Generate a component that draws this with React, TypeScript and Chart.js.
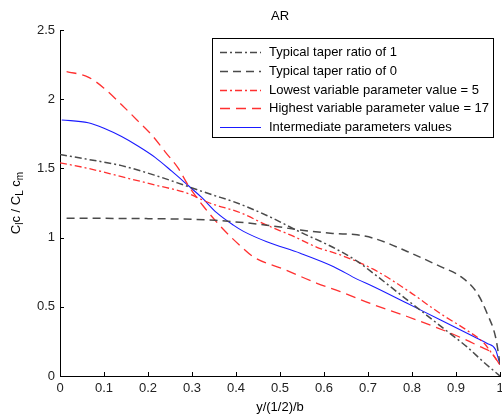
import React, { useEffect, useRef } from "react";
import { Chart, registerables } from "chart.js";

Chart.register(...registerables);

const FONT = '"Liberation Sans", Arial, Helvetica, sans-serif';

const titleText = "AR";
const xAxisLabel = "y/(1/2)/b";
const xTicks = [0, 0.1, 0.2, 0.3, 0.4, 0.5, 0.6, 0.7, 0.8, 0.9, 1];
const yTicks = [0, 0.5, 1, 1.5, 2, 2.5];

const seriesNames = [
  "Typical taper ratio of 1",
  "Typical taper ratio of 0",
  "Lowest variable parameter value = 5",
  "Highest variable parameter value = 17",
  "Intermediate parameters values",
];

const taper1X = [0, 0.064, 0.14, 0.216, 0.29, 0.345, 0.394, 0.47, 0.546, 0.62, 0.675, 0.713, 0.789, 0.865, 0.925, 0.963, 1];
const taper1Y = [1.6, 1.565, 1.52, 1.45, 1.37, 1.31, 1.26, 1.16, 1.04, 0.93, 0.83, 0.74, 0.55, 0.36, 0.21, 0.1, 0];

const taper0X = [0.015, 0.1, 0.2, 0.3, 0.353, 0.394, 0.47, 0.546, 0.62, 0.675, 0.713, 0.789, 0.865, 0.91, 0.948, 0.971, 0.99, 1];
const taper0Y = [1.14, 1.139, 1.137, 1.132, 1.125, 1.115, 1.09, 1.055, 1.03, 1.02, 0.995, 0.9, 0.79, 0.72, 0.6, 0.45, 0.28, 0.09];

const lowX = [0, 0.064, 0.14, 0.216, 0.29, 0.34, 0.41, 0.47, 0.53, 0.584, 0.637, 0.713, 0.789, 0.865, 0.925, 0.963, 0.98, 1];
const lowY = [1.54, 1.5, 1.44, 1.38, 1.32, 1.25, 1.18, 1.09, 1.01, 0.93, 0.875, 0.77, 0.62, 0.45, 0.33, 0.24, 0.17, 0.08];

const highX = [0.015, 0.064, 0.1, 0.14, 0.178, 0.209, 0.239, 0.269, 0.291, 0.325, 0.371, 0.41, 0.44, 0.51, 0.584, 0.637, 0.713, 0.789, 0.85, 0.895, 0.956, 0.98, 1];
const highY = [2.2, 2.16, 2.08, 1.96, 1.84, 1.74, 1.62, 1.5, 1.38, 1.23, 1.06, 0.94, 0.86, 0.77, 0.67, 0.61, 0.515, 0.43, 0.357, 0.3, 0.21, 0.17, 0.08];

const midX = [0.004, 0.064, 0.1, 0.14, 0.178, 0.216, 0.254, 0.29, 0.322, 0.356, 0.394, 0.417, 0.47, 0.546, 0.622, 0.675, 0.713, 0.789, 0.865, 0.94, 0.971, 0.99, 1];
const midY = [1.85, 1.83, 1.79, 1.73, 1.66, 1.58, 1.48, 1.38, 1.29, 1.18, 1.09, 1.045, 0.97, 0.887, 0.79, 0.7, 0.645, 0.525, 0.405, 0.285, 0.235, 0.19, 0.08];

const pts = (xs: number[], ys: number[]) => xs.map((x, i) => ({ x, y: ys[i] }));

export default function App() {
  const ref = useRef<HTMLCanvasElement>(null);

  useEffect(() => {
    const canvas = ref.current;
    if (!canvas) return;

    const datasets: any[] = [
      { label: seriesNames[0], data: pts(taper1X, taper1Y), borderColor: "#4a4a4a", borderWidth: 1.5, borderDash: [7, 3, 2, 3] },
      { label: seriesNames[1], data: pts(taper0X, taper0Y), borderColor: "#4a4a4a", borderWidth: 1.5, borderDash: [8, 5] },
      { label: seriesNames[2], data: pts(lowX, lowY), borderColor: "#ff3030", borderWidth: 1.3, borderDash: [7, 3, 2, 3] },
      { label: seriesNames[3], data: pts(highX, highY), borderColor: "#ff3030", borderWidth: 1.3, borderDash: [10, 6] },
      { label: seriesNames[4], data: pts(midX, midY), borderColor: "#1a1aff", borderWidth: 1.1, borderDash: [] },
    ];

    const overlay = {
      id: "overlay",
      afterDraw(chart: any) {
        const ctx = chart.ctx as CanvasRenderingContext2D;
        const xs = chart.scales.x;
        const ys = chart.scales.y;
        const area = chart.chartArea;
        ctx.save();
        // inward ticks
        ctx.strokeStyle = "#000";
        ctx.lineWidth = 1;
        ctx.setLineDash([]);
        ctx.beginPath();
        xTicks.forEach((v) => {
          const px = Math.round(xs.getPixelForValue(v)) + 0.5;
          ctx.moveTo(px, area.bottom);
          ctx.lineTo(px, area.bottom - 4);
        });
        yTicks.forEach((v) => {
          const py = Math.round(ys.getPixelForValue(v)) + 0.5;
          ctx.moveTo(area.left, py);
          ctx.lineTo(area.left + 4, py);
        });
        ctx.stroke();

        const cx = (area.left + area.right) / 2;
        ctx.fillStyle = "#000";
        ctx.font = `13px ${FONT}`;
        ctx.textAlign = "center";
        ctx.textBaseline = "middle";
        ctx.fillText(titleText, cx, 16);
        ctx.fillText(xAxisLabel, cx, 407);

        // y-axis label with subscripts
        const parts: { t: string; sub?: boolean }[] = [
          { t: "C" }, { t: "l", sub: true }, { t: "c / C" }, { t: "L", sub: true }, { t: " c" }, { t: "m", sub: true },
        ];
        const mainFont = `13px ${FONT}`;
        const subFont = `10px ${FONT}`;
        let total = 0;
        parts.forEach((p) => {
          ctx.font = p.sub ? subFont : mainFont;
          total += ctx.measureText(p.t).width;
        });
        ctx.save();
        ctx.translate(16, (area.top + area.bottom) / 2);
        ctx.rotate(-Math.PI / 2);
        ctx.textAlign = "left";
        ctx.textBaseline = "alphabetic";
        let off = -total / 2;
        parts.forEach((p) => {
          ctx.font = p.sub ? subFont : mainFont;
          ctx.fillText(p.t, off, p.sub ? 7 : 4);
          off += ctx.measureText(p.t).width;
        });
        ctx.restore();

        // legend
        const lx = 212.5, ly = 38.5, lw = 281, lh = 99;
        ctx.fillStyle = "#fff";
        ctx.fillRect(lx, ly, lw, lh);
        ctx.strokeStyle = "#000";
        ctx.lineWidth = 1;
        ctx.strokeRect(lx, ly, lw, lh);
        chart.data.datasets.forEach((ds: any, i: number) => {
          const y = Math.round(52 + i * 18.8) + 0.5;
          ctx.save();
          ctx.strokeStyle = ds.borderColor;
          ctx.lineWidth = ds.borderWidth;
          ctx.setLineDash(ds.borderDash || []);
          ctx.beginPath();
          ctx.moveTo(220, y);
          ctx.lineTo(261, y);
          ctx.stroke();
          ctx.restore();
          ctx.fillStyle = "#000";
          ctx.font = `13px ${FONT}`;
          ctx.textAlign = "left";
          ctx.textBaseline = "middle";
          ctx.fillText(ds.label, 269, y);
        });
        ctx.restore();
      },
    };

    const tickFont = { family: FONT, size: 13 };

    const chart = new Chart(canvas, {
      type: "line",
      data: { datasets },
      options: {
        responsive: false,
        animation: false,
        devicePixelRatio: 1,
        layout: { padding: { top: 30, right: 2, left: 0, bottom: 0 } },
        plugins: { legend: { display: false }, title: { display: false }, tooltip: { enabled: false } },
        elements: { point: { radius: 0 }, line: { cubicInterpolationMode: "monotone", fill: false } },
        scales: {
          x: {
            type: "linear",
            min: 0,
            max: 1,
            afterBuildTicks: (s: any) => { s.ticks = xTicks.map((v) => ({ value: v })); },
            ticks: { font: tickFont, color: "#222", padding: 5, maxRotation: 0, autoSkip: false, callback: (v: any) => String(v) },
            grid: { display: true, drawOnChartArea: false, drawTicks: false },
            border: { display: true, color: "#000", width: 1 },
            afterFit: (s: any) => { s.height = 39; s.paddingLeft = 0; s.paddingRight = 0; },
          },
          y: {
            type: "linear",
            min: 0,
            max: 2.5,
            afterBuildTicks: (s: any) => { s.ticks = yTicks.map((v) => ({ value: v })); },
            ticks: { font: tickFont, color: "#222", padding: 5, autoSkip: false, callback: (v: any) => String(v) },
            grid: { display: true, drawOnChartArea: false, drawTicks: false },
            border: { display: true, color: "#000", width: 1 },
            afterFit: (s: any) => { s.width = 60; s.paddingTop = 0; s.paddingBottom = 0; },
          },
        },
      } as any,
      plugins: [overlay],
    });

    return () => chart.destroy();
  }, []);

  return (
    <div style={{ position: "absolute", left: 0, top: 0, width: 502, height: 415, background: "#fff" }}>
      <canvas ref={ref} width={502} height={415} style={{ width: 502, height: 415, display: "block" }} />
    </div>
  );
}
